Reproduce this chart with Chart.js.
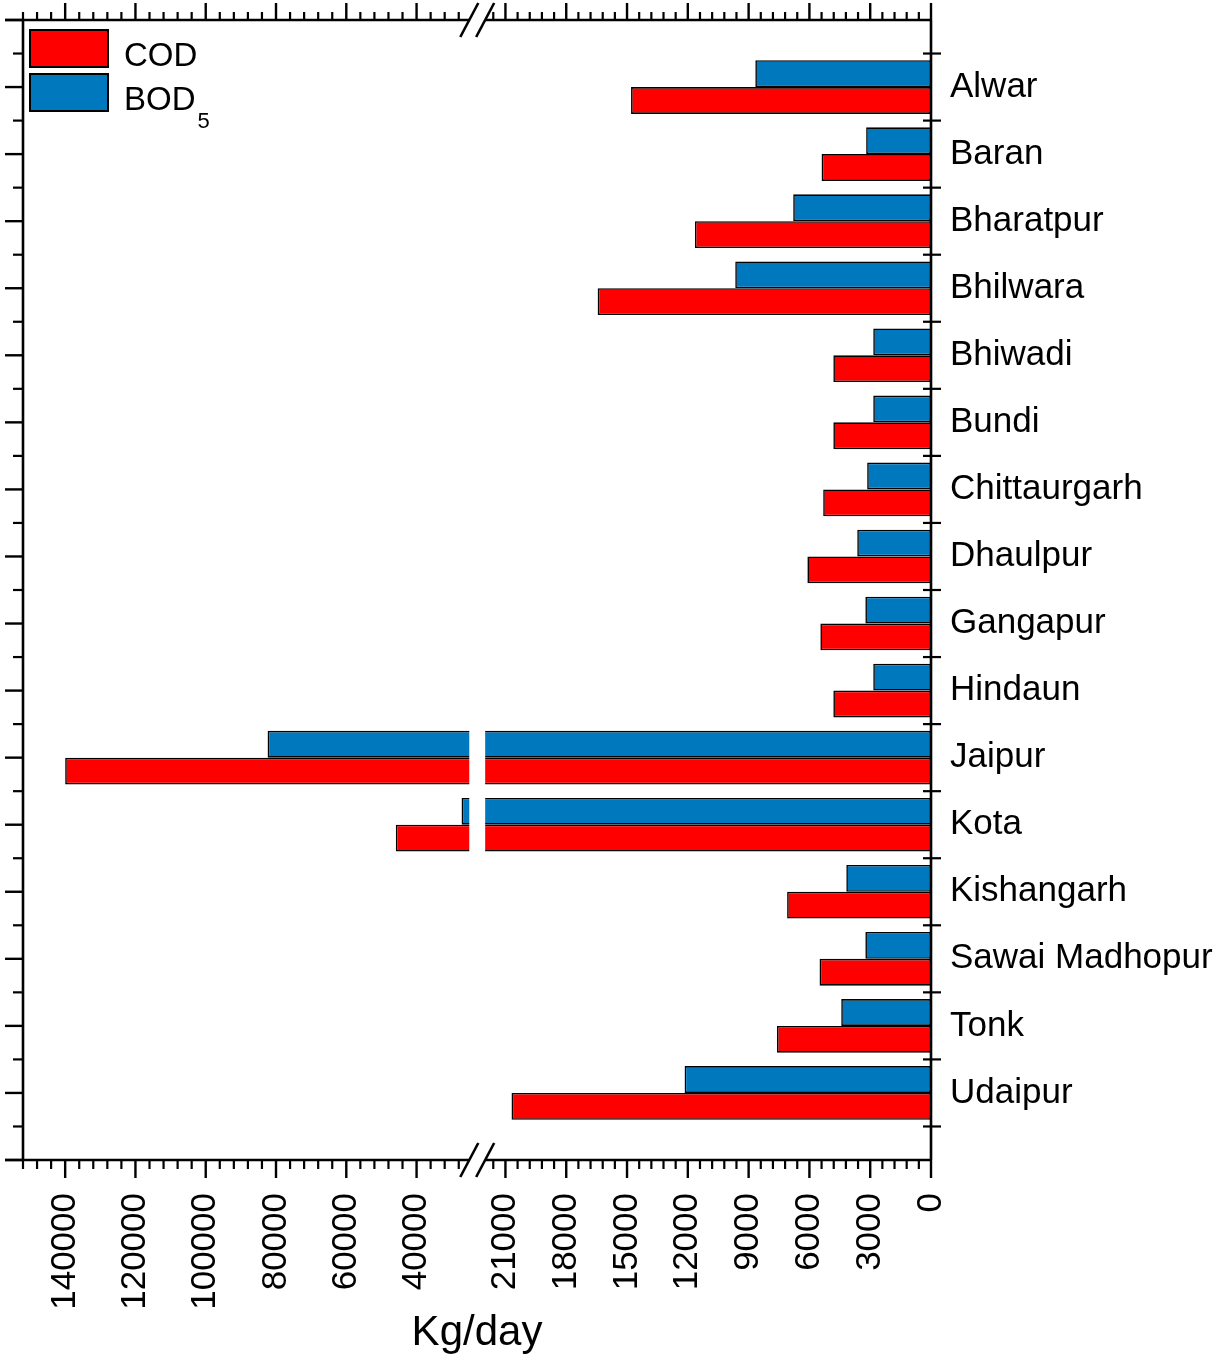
<!DOCTYPE html>
<html>
<head>
<meta charset="utf-8">
<script src="https://cdn.jsdelivr.net/npm/chart.js"></script>
<style>
html, body { margin: 0; padding: 0; background: #fff; }
#wrap { width: 1225px; height: 1359px; position: relative; }
</style>
</head>
<body>
<div id="wrap"><canvas id="c"></canvas></div>
<script>
// ---------------- data ----------------
const categories = ['Alwar', 'Baran', 'Bharatpur', 'Bhilwara', 'Bhiwadi', 'Bundi', 'Chittaurgarh', 'Dhaulpur',
  'Gangapur', 'Hindaun', 'Jaipur', 'Kota', 'Kishangarh', 'Sawai Madhopur', 'Tonk', 'Udaipur'];
const codValues = [14800, 5400, 11650, 16450, 4820, 4820, 5320, 6100, 5460, 4820, 140000, 45900, 7100, 5500, 7600, 20700];
const bodValues = [8670, 3200, 6800, 9660, 2850, 2850, 3150, 3640, 3240, 2850, 82400, 27200, 4180, 3240, 4430, 12160];
const lowTickLabels = [0, 3000, 6000, 9000, 12000, 15000, 18000, 21000];
const highTickLabels = [40000, 60000, 80000, 100000, 120000, 140000];
const lowRange = [0, 22000];       // right-hand segment of the broken axis
const highRange = [25000, 152000]; // left-hand segment of the broken axis
const lowMinorStep = 600;
const highMinorStep = 4000;
const seriesNames = ['COD', 'BOD\u2085'];
const axisTitle = 'Kg/day';

// ---------------- styling ----------------
const FONT = '"Liberation Sans", Arial, Helvetica, sans-serif';
const COD_COLOR = '#FF0000';
const BOD_COLOR = '#0078BE';
const SEG_LOW = 0.491;      // share of axis length for low segment
const SEG_HIGH = 0.5085;    // where high segment starts

Chart.defaults.font.family = FONT;
Chart.defaults.color = '#000';

// Broken linear scale (library scale subclass)
class BrokenLinearScale extends Chart.LinearScale {
  determineDataLimits() {
    this.min = lowRange[0];
    this.max = highRange[1];
  }
  buildTicks() {
    return lowTickLabels.concat(highTickLabels).map(v => ({ value: v }));
  }
  _toDecimal(value) {
    if (value <= lowRange[1]) return (value - lowRange[0]) / (lowRange[1] - lowRange[0]) * SEG_LOW;
    if (value >= highRange[0]) return SEG_HIGH + (value - highRange[0]) / (highRange[1] - highRange[0]) * (1 - SEG_HIGH);
    return SEG_LOW + (value - lowRange[1]) / (highRange[0] - lowRange[1]) * (SEG_HIGH - SEG_LOW);
  }
  getPixelForValue(value) {
    if (value === null || value === undefined || isNaN(value)) return NaN;
    return this.getPixelForDecimal(this._toDecimal(value));
  }
  getValueForPixel(pixel) {
    const d = this.getDecimalForPixel(pixel);
    if (d <= SEG_LOW) return lowRange[0] + d / SEG_LOW * (lowRange[1] - lowRange[0]);
    if (d >= SEG_HIGH) return highRange[0] + (d - SEG_HIGH) / (1 - SEG_HIGH) * (highRange[1] - highRange[0]);
    return lowRange[1] + (d - SEG_LOW) / (SEG_HIGH - SEG_LOW) * (highRange[0] - lowRange[1]);
  }
}
BrokenLinearScale.id = 'brokenLinear';
BrokenLinearScale.defaults = {};
Chart.register(BrokenLinearScale);

function line(ctx, x0, y0, x1, y1) {
  ctx.beginPath(); ctx.moveTo(x0, y0); ctx.lineTo(x1, y1); ctx.stroke();
}

const framePlugin = {
  id: 'frame',
  afterDatasetsDraw(chart) {
    const { ctx, chartArea: a, scales: { x, y } } = chart;
    const bL = x.getPixelForValue(highRange[0]);
    const bR = x.getPixelForValue(lowRange[1]);
    ctx.save();
    // white gap through bars
    ctx.fillStyle = '#fff';
    ctx.fillRect(bL, a.top + 2, bR - bL, a.bottom - a.top - 4);

    ctx.strokeStyle = '#000';
    ctx.lineCap = 'butt';
    // frame
    ctx.lineWidth = 2.6;
    line(ctx, a.left, a.top, a.left, a.bottom);
    line(ctx, a.right, a.top, a.right, a.bottom);
    for (const yy of [a.top, a.bottom]) {
      line(ctx, a.left - 18, yy, bL, yy);
      line(ctx, bR, yy, a.right, yy);
    }
    // x ticks (top & bottom)
    const majors = lowTickLabels.concat(highTickLabels);
    const minors = [];
    for (let v = lowRange[0]; v < lowRange[1]; v += lowMinorStep) if (!majors.includes(v)) minors.push(v);
    for (let v = highRange[1]; v > highRange[0]; v -= highMinorStep) if (!majors.includes(v)) minors.push(v);
    ctx.lineWidth = 2.4;
    for (const v of majors) {
      const px = x.getPixelForValue(v);
      line(ctx, px, a.bottom, px, a.bottom + 18);
      line(ctx, px, a.top, px, a.top - 17);
    }
    ctx.lineWidth = 2.2;
    for (const v of minors) {
      const px = x.getPixelForValue(v);
      line(ctx, px, a.bottom, px, a.bottom + 9);
      line(ctx, px, a.top, px, a.top - 8);
    }
    // y ticks
    ctx.lineWidth = 2.4;
    for (let i = -1; i <= categories.length; i++) {
      const py = y.getPixelForValue(i);
      line(ctx, a.left, py, a.left - 18, py);
    }
    ctx.lineWidth = 2.2;
    for (let i = -0.5; i < categories.length; i++) {
      const py = y.getPixelForValue(i);
      line(ctx, a.left, py, a.left - 10, py);
      line(ctx, a.right - 8, py, a.right + 10, py);
    }
    // break marks
    ctx.lineWidth = 2.6;
    for (const yy of [a.top, a.bottom]) {
      for (const bx of [bL, bR]) {
        line(ctx, bx - 9, yy + 17, bx + 9, yy - 17);
      }
    }
    ctx.restore();
  },
  afterDraw(chart) {
    const { ctx } = chart;
    ctx.save();
    const items = chart.data.datasets.slice().reverse();
    items.forEach((ds, k) => {
      const top = 30 + k * 44;
      ctx.fillStyle = ds.backgroundColor;
      ctx.fillRect(30, top, 78, 37);
      ctx.strokeStyle = '#000';
      ctx.lineWidth = 2;
      ctx.strokeRect(30, top, 78, 37);
      ctx.fillStyle = '#000';
      ctx.textBaseline = 'alphabetic';
      ctx.textAlign = 'left';
      let xPos = 124;
      const base = top + 36;
      for (const ch of ds.label) {
        const code = ch.charCodeAt(0);
        if (code >= 0x2080 && code <= 0x2089) {
          ctx.font = '22px ' + FONT;
          const s = String(code - 0x2080);
          ctx.fillText(s, xPos + 2, base + 18);
          xPos += ctx.measureText(s).width + 2;
        } else {
          ctx.font = '33px ' + FONT;
          ctx.fillText(ch, xPos, base);
          xPos += ctx.measureText(ch).width;
        }
      }
    });
    ctx.restore();
  }
};

const toPoints = vals => vals.map((v, i) => ({ x: v, y: i }));

new Chart(document.getElementById('c'), {
  type: 'bar',
  data: {
    datasets: [
      { label: seriesNames[1], data: toPoints(bodValues), backgroundColor: BOD_COLOR,
        borderColor: '#000', borderWidth: 1.6, borderSkipped: false },
      { label: seriesNames[0], data: toPoints(codValues), backgroundColor: COD_COLOR,
        borderColor: '#000', borderWidth: 1.6, borderSkipped: false }
    ]
  },
  options: {
    indexAxis: 'y',
    responsive: true,
    maintainAspectRatio: false,
    animation: false,
    layout: { padding: { left: 23, top: 20, right: 0, bottom: 0 } },
    datasets: { bar: { categoryPercentage: 0.8, barPercentage: 1.0 } },
    plugins: { legend: { display: false }, tooltip: { enabled: false } },
    scales: {
      x: {
        type: 'brokenLinear',
        position: 'bottom',
        reverse: true,
        grid: { display: false, drawTicks: false },
        border: { display: false },
        ticks: {
          autoSkip: false, minRotation: 90, maxRotation: 90, padding: 33,
          font: { size: 35 }, color: '#000',
          callback: v => String(v)
        },
        title: { display: true, text: axisTitle, font: { size: 42 }, color: '#000', padding: { top: 0, bottom: 0 } },
        afterFit: s => { s.height = 199; s.paddingLeft = 0; s.paddingRight = 0; }
      },
      y: {
        type: 'linear',
        position: 'right',
        reverse: true,
        offset: false,
        min: -1,
        max: categories.length,
        grid: { display: false, drawTicks: false, offset: false },
        border: { display: false },
        ticks: {
          stepSize: 1, autoSkip: false, padding: 19,
          font: { size: 35 }, color: '#000',
          callback: v => (categories[v] !== undefined ? categories[v] : '')
        },
        afterFit: s => { s.width = 294; s.paddingTop = 0; s.paddingBottom = 0; }
      }
    }
  },
  plugins: [framePlugin]
});
</script>
</body>
</html>
